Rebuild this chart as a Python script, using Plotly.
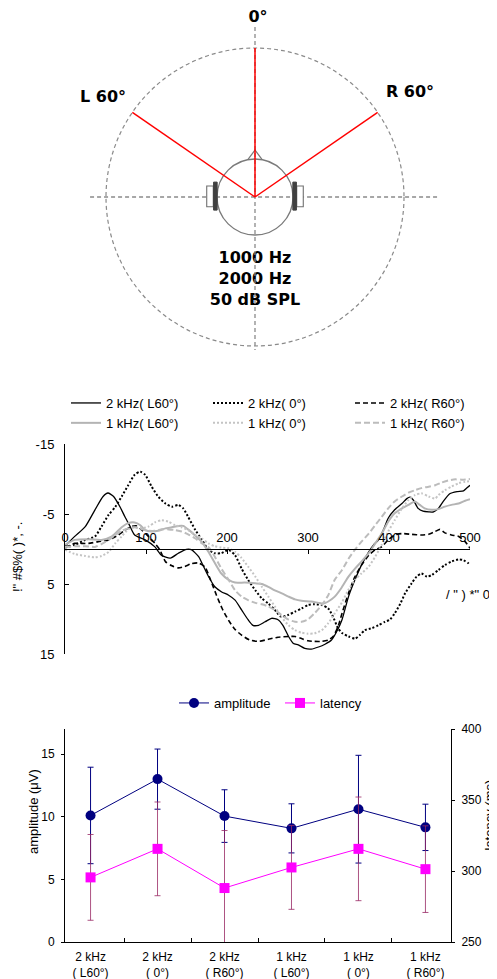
import math
import plotly.graph_objects as go

# The page body has an 8px default margin, so the figure is placed at (8, 8) in the window.
OFF = 8
W, H = 497 - OFF, 979 - OFF


def fx(p):
    return (p - OFF) / W


def fy(p):
    return 1 - (p - OFF) / H


# ---------------- data: ERP waveforms (time in ms, amplitude in µV) ----------------
t_2k_L60 = [0, 12, 25, 37, 47, 53, 60, 68, 74, 80, 86, 99, 111, 119, 130, 140, 150, 156, 165, 169,
            177, 185, 193, 202, 210, 218, 226, 232, 239, 247, 255, 263, 269, 276, 282, 288, 296, 304,
            313, 321, 329, 335, 342, 350, 358, 366, 375, 381, 387, 393, 399, 407, 416, 422, 426, 430,
            436, 442, 449, 455, 461, 467, 475, 484, 492, 496, 500]
v_2k_L60 = [-0.4, -1.8, -3.2, -5.6, -7.5, -8.0, -7.5, -6.0, -4.6, -3.3, -2.0, -1.3, -0.3, 0.9, 1.3, 0.6,
            0.05, 0.1, 1.1, 2.0, 3.9, 5.4, 6.1, 6.6, 7.3, 8.7, 10.1, 10.9, 10.9, 10.4, 9.9, 10.1, 10.9,
            12.5, 13.5, 13.7, 14.2, 14.3, 14.0, 13.6, 13.0, 11.9, 10.1, 6.8, 4.4, 2.3, 0.4, -0.6, -1.3,
            -2.7, -4.4, -5.6, -6.5, -7.2, -7.4, -7.0, -5.8, -5.4, -5.3, -5.3, -5.8, -6.8, -7.9, -8.2,
            -8.3, -8.7, -9.1]

t_2k_0 = [0, 12, 25, 37, 45, 54, 62, 70, 78, 86, 93, 99, 107, 115, 124, 132, 140, 146, 152, 161, 169,
          177, 185, 193, 202, 210, 218, 226, 235, 243, 251, 259, 267, 276, 284, 292, 300, 308, 317, 325,
          331, 337, 342, 350, 358, 364, 370, 379, 387, 395, 401, 407, 414, 420, 428, 434, 440, 447, 453,
          461, 469, 477, 486, 492, 498, 500]
v_2k_0 = [-0.2, -0.6, -1.3, -1.8, -3.2, -4.9, -6.0, -7.5, -9.1, -10.6, -11.05, -10.6, -8.9, -7.5, -6.5,
          -6.05, -6.3, -5.8, -4.6, -2.7, -1.3, 0.1, 0.6, 0.6, 0.15, 0.9, 2.8, 4.4, 5.9, 7.05, 7.8, 8.7,
          9.7, 9.4, 8.95, 8.5, 8.0, 7.9, 8.0, 8.5, 9.7, 11.3, 12.0, 12.5, 12.8, 12.3, 11.6, 11.3, 10.9,
          10.4, 10.1, 9.2, 7.8, 6.3, 4.9, 3.95, 3.5, 3.95, 3.7, 3.0, 2.3, 1.8, 1.5, 1.6, 2.05, 2.3]

t_2k_R60 = [0, 6, 12, 29, 41, 54, 66, 74, 82, 88, 95, 103, 111, 117, 124, 132, 140, 148, 156, 165, 173,
            180, 187, 194, 202, 210, 218, 228, 239, 251, 263, 276, 284, 292, 300, 308, 317, 325, 331,
            337, 342, 350, 358, 366, 375, 383, 391, 399, 407, 416, 428, 440, 449, 457, 463, 469, 477,
            486, 494, 500]
v_2k_R60 = [-0.3, -0.5, -0.8, -0.8, -1.05, -1.3, -2.0, -2.7, -3.2, -3.3, -2.7, -1.8, -0.8, 0.1, 1.8, 2.4,
            2.7, 2.5, 2.1, 2.0, 2.6, 4.5, 6.6, 8.5, 10.2, 11.5, 12.3, 13.0, 13.2, 12.9, 12.6, 12.5, 12.5,
            12.8, 13.1, 13.2, 13.2, 13.0, 12.5, 11.1, 9.2, 6.3, 3.95, 2.3, 0.9, 0.1, -0.3, -1.3, -2.0,
            -2.2, -2.1, -2.0, -2.1, -2.5, -2.8, -2.3, -2.0, -1.8, -1.05, -0.1]

t_1k_L60 = [0, 12, 29, 45, 58, 70, 78, 86, 93, 99, 107, 115, 124, 132, 140, 146, 152, 161, 169, 177,
            185, 193, 202, 210, 222, 235, 243, 251, 259, 267, 276, 284, 292, 304, 313, 319, 325, 333,
            341, 350, 358, 366, 375, 383, 391, 399, 407, 416, 424, 432, 438, 444, 453, 461, 469, 477,
            486, 494, 500]
v_1k_L60 = [-0.6, -1.3, -1.4, -1.3, -1.8, -3.1, -3.7, -3.8, -3.4, -2.7, -2.5, -2.6, -2.95, -3.1, -3.3,
            -3.3, -2.8, -1.9, -1.0, 0.4, 2.0, 3.5, 4.4, 4.8, 4.8, 4.9, 5.0, 5.4, 5.9, 6.3, 6.8, 7.2, 7.4,
            7.5, 7.7, 7.8, 7.5, 6.8, 5.6, 3.95, 2.8, 1.8, 0.6, -0.8, -2.2, -3.9, -5.1, -5.8, -6.3, -6.8,
            -6.3, -5.8, -5.6, -5.7, -6.05, -6.3, -6.5, -6.9, -7.1]

t_1k_0 = [0, 12, 25, 37, 45, 54, 62, 70, 78, 86, 95, 103, 111, 119, 128, 136, 144, 152, 161, 169, 177,
          185, 193, 202, 210, 218, 226, 235, 243, 251, 259, 267, 276, 284, 292, 300, 308, 317, 325, 333,
          342, 350, 358, 366, 375, 383, 391, 399, 407, 416, 424, 432, 440, 449, 457, 461, 469, 477, 486,
          494, 500]
v_1k_0 = [0.1, 0.7, 1.0, 1.2, 1.0, 0.4, -0.8, -1.8, -2.8, -3.1, -2.95, -3.2, -3.8, -4.1, -3.9, -3.4,
          -3.1, -2.7, -2.0, -1.5, -0.8, -0.4, -0.2, -0.1, 0.4, 1.3, 2.5, 3.95, 5.4, 6.8, 8.2, 9.7, 10.9,
          11.6, 11.95, 12.1, 12.05, 11.6, 10.6, 9.2, 7.6, 5.8, 4.4, 3.5, 2.5, 1.1, -0.6, -2.5, -4.1,
          -5.8, -7.0, -7.7, -7.95, -7.5, -7.2, -7.7, -8.4, -8.9, -9.4, -9.6, -9.7]

t_1k_R60 = [0, 12, 25, 37, 45, 54, 62, 70, 78, 86, 95, 103, 111, 119, 128, 136, 144, 152, 161, 169,
            177, 185, 193, 202, 210, 218, 226, 235, 243, 251, 259, 267, 276, 284, 292, 300, 308, 317,
            325, 333, 342, 350, 358, 366, 375, 383, 391, 399, 407, 416, 424, 432, 440, 449, 457, 465,
            473, 482, 490, 500]
v_1k_R60 = [-0.3, -0.4, -0.4, -0.3, -0.7, -1.3, -2.0, -2.6, -2.95, -3.1, -2.8, -2.6, -2.6, -2.8, -2.8,
            -2.7, -2.5, -2.1, -1.5, -0.8, -0.3, 1.1, 2.8, 4.4, 5.9, 6.8, 7.3, 7.7, 7.9, 8.2, 8.7, 9.4,
            10.1, 10.4, 10.4, 10.05, 9.2, 8.0, 6.6, 4.4, 3.0, 1.4, 0.1, -1.05, -2.2, -3.4, -4.6, -5.8,
            -6.8, -7.5, -8.05, -8.4, -8.7, -8.9, -9.1, -9.5, -9.8, -9.95, -9.9, -10.0]

wave_names = ["2 kHz( L60°)", "2 kHz( 0°)", "2 kHz( R60°)",
              "1 kHz( L60°)", "1 kHz( 0°)", "1 kHz( R60°)"]
wave_x_ticks = [0, 100, 200, 300, 400, 500]
wave_y_ticks = [-15, -5, 5, 15]
wave_y_ticktext = ["-15", "-5", "5", "15"]

# ---------------- data: amplitude / latency summary ----------------
conditions = ["2 kHz<br>( L60°)", "2 kHz<br>( 0°)", "2 kHz<br>( R60°)",
              "1 kHz<br>( L60°)", "1 kHz<br>( 0°)", "1 kHz<br>( R60°)"]
amplitude = [10.1, 13.0, 10.05, 9.07, 10.6, 9.15]
amplitude_sd = [3.85, 2.4, 2.1, 1.96, 4.3, 1.85]
latency = [295.5, 315.6, 288.0, 302.5, 315.6, 301.3]
latency_sd = [30.2, 33.0, 40.5, 29.5, 36.5, 30.5]

# ---------------- data: stimulus set-up diagram ----------------
speaker_labels = ["L 60°", "0°", "R 60°"]
speaker_angles = [-55.4, 0.0, 55.4]       # drawn direction (deg from straight ahead)
ring_radius = 1.0
head_radius = 0.255
stim_text = "1000 Hz<br>2000 Hz<br>50 dB SPL"

FONT = "Liberation Sans, Arial, sans-serif"
fig = go.Figure()

# ---- waveform panel ----
styles = [
    dict(color="#000000", width=1.3, dash="solid"),
    dict(color="#000000", width=2.0, dash="2px,2px"),
    dict(color="#000000", width=1.6, dash="5px,3px"),
    dict(color="#b4b4b4", width=2.0, dash="solid"),
    dict(color="#c4c4c4", width=2.0, dash="2px,2px"),
    dict(color="#bcbcbc", width=2.0, dash="6px,3px"),
]
series = [(t_2k_L60, v_2k_L60), (t_2k_0, v_2k_0), (t_2k_R60, v_2k_R60),
          (t_1k_L60, v_1k_L60), (t_1k_0, v_1k_0), (t_1k_R60, v_1k_R60)]
for (tt, vv), nm, st in zip(series, wave_names, styles):
    fig.add_trace(go.Scatter(
        x=tt, y=vv, mode="lines", name=nm,
        line=dict(color=st["color"], width=st["width"], dash=st["dash"],
                  shape="spline", smoothing=0.6),
        xaxis="x", yaxis="y", legend="legend", hoverinfo="skip"))

# ---- amplitude / latency panel ----
fig.add_trace(go.Scatter(
    x=conditions, y=amplitude, name="amplitude", mode="lines+markers",
    line=dict(color="#000080", width=1),
    marker=dict(symbol="circle", size=10, color="#000080"),
    error_y=dict(type="data", array=amplitude_sd, color="#000080", thickness=1, width=3),
    xaxis="x2", yaxis="y2", legend="legend2"))
fig.add_trace(go.Scatter(
    x=conditions, y=latency, name="latency", mode="lines+markers",
    line=dict(color="#ff00ff", width=1),
    marker=dict(symbol="square", size=10, color="#ff00ff"),
    error_y=dict(type="data", array=latency_sd, color="rgba(153,40,100,0.8)", thickness=1, width=3),
    xaxis="x2", yaxis="y3", legend="legend2"))

# ---- diagram text (as a text trace on its own axes) ----
lab_pos = {"L 60°": (-1.02, 0.664), "0°": (0.02, 1.201), "R 60°": (1.04, 0.698)}
fig.add_trace(go.Scatter(
    x=[lab_pos[s][0] for s in speaker_labels] + [0.0],
    y=[lab_pos[s][1] for s in speaker_labels] + [-0.557],
    text=speaker_labels + [stim_text], mode="text",
    textfont=dict(family="DejaVu Sans", size=16, color="black", weight="bold"),
    textposition="middle center", showlegend=False, hoverinfo="skip",
    xaxis="x4", yaxis="y4"))

shapes = []
gray = "#8a8a8a"
# outer dashed ring
shapes.append(dict(type="circle", xref="x4", yref="y4", x0=-ring_radius, x1=ring_radius,
                   y0=-ring_radius, y1=ring_radius, line=dict(color=gray, width=1.2, dash="4px,3px")))
# cross-hair dashed lines
shapes.append(dict(type="line", xref="x4", yref="y4", x0=0, x1=0, y0=1.141, y1=-1.1,
                   line=dict(color=gray, width=1.3, dash="4px,3px")))
shapes.append(dict(type="line", xref="x4", yref="y4", x0=-1.107, x1=1.242, y0=0, y1=0,
                   line=dict(color=gray, width=1.3, dash="4px,3px")))
# head
shapes.append(dict(type="circle", xref="x4", yref="y4", x0=-head_radius, x1=head_radius,
                   y0=-head_radius, y1=head_radius, line=dict(color="#7a7a7a", width=1.3)))
shapes.append(dict(type="path", xref="x4", yref="y4",
                   path="M -0.047 0.252 L 0 0.315 L 0.047 0.252",
                   line=dict(color="#7a7a7a", width=1.2)))
# ears / earphones
for sgn in (-1, 1):
    shapes.append(dict(type="rect", xref="x4", yref="y4",
                       x0=sgn * 0.28, x1=sgn * 0.324, y0=-0.065, y1=0.074,
                       line=dict(color="#707070", width=1.1), fillcolor="white"))
    shapes.append(dict(type="rect", xref="x4", yref="y4",
                       x0=sgn * 0.254, x1=sgn * 0.278, y0=-0.088, y1=0.1,
                       line=dict(color="#404040", width=1), fillcolor="#404040"))
# speaker directions
for ang in speaker_angles:
    a = math.radians(ang)
    shapes.append(dict(type="line", xref="x4", yref="y4", x0=0, y0=0,
                       x1=ring_radius * math.sin(a), y1=ring_radius * math.cos(a),
                       line=dict(color="#ff0000", width=1.5)))

afont = dict(family=FONT, size=13, color="black")
annotations = [
    # garbled axis labels of the waveform panel (kept as in the source)
    dict(text='!" #$%( )*, -.', x=fx(17), y=fy(557), xref="paper", yref="paper",
         xanchor="center", yanchor="middle", textangle=-90, showarrow=False, font=afont),
    dict(text='/ " ) *" 0', x=fx(468), y=fy(594), xref="paper", yref="paper",
         xanchor="center", yanchor="middle", showarrow=False, font=afont),
    dict(text="amplitude (μV)", x=fx(33), y=fy(812), xref="paper", yref="paper",
         xanchor="center", yanchor="middle", textangle=-90, showarrow=False, font=afont),
    dict(text="latency (ms)", x=1.0, y=fy(815), xref="paper", yref="paper",
         xanchor="right", yanchor="middle", textangle=-90, showarrow=False, font=afont,
         borderpad=0),
]

axis_common = dict(showgrid=False, zeroline=False, showline=True, linecolor="black", linewidth=1,
                   tickcolor="black", tickfont=dict(family=FONT, size=13, color="black"))
small_ticks = dict(family=FONT, size=12, color="black")

fig.update_layout(
    width=W, height=H, margin=dict(l=0, r=0, t=0, b=0, autoexpand=False),
    paper_bgcolor="white", plot_bgcolor="white",
    font=dict(family=FONT, size=13, color="black"),
    showlegend=True,
    # waveform panel
    xaxis=dict(**axis_common, domain=[fx(65), fx(470)], anchor="free", position=fy(549),
               side="top", range=[0, 500], tickvals=wave_x_ticks, ticks="inside", ticklen=4,
               ticklabelstandoff=2),
    yaxis=dict(**axis_common, domain=[fy(654), fy(444)], anchor="x", range=[15, -15],
               tickvals=wave_y_ticks, ticktext=wave_y_ticktext, ticks="inside", ticklen=4,
               ticklabelstandoff=7),
    # summary panel
    xaxis2=dict(**{**axis_common, "tickfont": small_ticks},
                domain=[fx(65), fx(451)], anchor="y2", type="category",
                tickson="boundaries", ticks="inside", ticklen=4, ticklabelstandoff=4),
    yaxis2=dict(**{**axis_common, "tickfont": small_ticks},
                domain=[fy(942), fy(729)], anchor="x2", range=[0, 17],
                tickvals=[0, 5, 10, 15], ticks="outside", ticklen=3, ticklabelstandoff=4),
    yaxis3=dict(**{**axis_common, "tickfont": small_ticks},
                overlaying="y2", side="right", anchor="x2", range=[250, 400],
                tickvals=[250, 300, 350, 400], ticks="outside", ticklen=3, ticklabelstandoff=4),
    # diagram
    xaxis4=dict(domain=[0, 1], anchor="y4", range=[-(255 - OFF) / 149, (497 - 255) / 149],
                visible=False, fixedrange=True),
    yaxis4=dict(domain=[fy(350), 1], anchor="x4", range=[-(350 - 197) / 149, (197 - OFF) / 149],
                visible=False, fixedrange=True),
    legend=dict(orientation="h", x=fx(66), y=fy(388), xanchor="left", yanchor="top",
                entrywidth=97, entrywidthmode="pixels", font=dict(family=FONT, size=13),
                bgcolor="rgba(0,0,0,0)", tracegroupgap=0),
    legend2=dict(orientation="h", x=fx(174), y=fy(688), xanchor="left", yanchor="top",
                 entrywidth=61, entrywidthmode="pixels",
                 font=dict(family=FONT, size=13), bgcolor="rgba(0,0,0,0)"),
    shapes=shapes, annotations=annotations,
)

fig.write_html("out.html")
